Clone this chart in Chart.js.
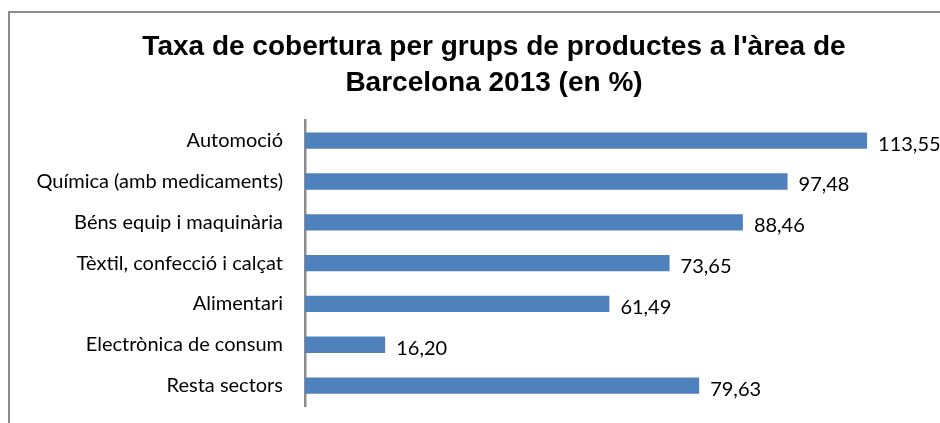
<!DOCTYPE html>
<html>
<head>
<meta charset="utf-8">
<script src="https://cdn.jsdelivr.net/npm/chart.js@4.4.1/dist/chart.umd.min.js"></script>
<style>
  html, body { margin: 0; padding: 0; background: #fff; }
  #wrap { width: 940px; height: 423px; }
</style>
</head>
<body>
<div id="wrap"><canvas id="coberturaChart" width="940" height="423"></canvas></div>
<script>
const sectors = ['Automoció', 'Química (amb medicaments)', 'Béns equip i maquinària', 'Tèxtil, confecció i calçat', 'Alimentari', 'Electrònica de consum', 'Resta sectors'];
const coverage = [113.55, 97.48, 88.46, 73.65, 61.49, 16.20, 79.63];
const axisMin = 0;
const axisMax = 120;

// grey frame like the excel chart box (left + top edges visible)
const framePlugin = {
    id: 'frame',
    beforeDraw(chart) {
        const ctx = chart.ctx;
        ctx.save();
        ctx.strokeStyle = '#8c8c8c';
        ctx.lineWidth = 2;
        ctx.beginPath();
        ctx.moveTo(9, chart.height);
        ctx.lineTo(9, 12);
        ctx.lineTo(chart.width, 12);
        ctx.stroke();
        ctx.restore();
    },
    // excel centres the title a bit right of the canvas middle
    afterLayout(chart) {
        const t = chart.titleBlock;
        if (t) {
            t.left = 89;
            t.right = 899;
        }
    }
};

// value labels at end of each bar
const valueLabels = {
    id: 'valueLabels',
    afterDatasetsDraw(chart) {
        const ctx = chart.ctx;
        const meta = chart.getDatasetMeta(0);
        ctx.save();
        ctx.font = '20px Lato';
        ctx.fillStyle = '#000';
        ctx.textAlign = 'left';
        ctx.textBaseline = 'alphabetic';
        meta.data.forEach((bar, i) => {
            const txt = coverage[i].toFixed(2).replace('.', ',');
            ctx.fillText(txt, bar.x + 11, bar.y + 10);
        });
        ctx.restore();
    }
};

const ctx = document.getElementById('coberturaChart').getContext('2d');
new Chart(ctx, {
    type: 'bar',
    data: {
        labels: sectors,
        datasets: [{
            data: coverage,
            backgroundColor: '#4f81bd',
            borderWidth: 0,
            categoryPercentage: 1,
            barPercentage: 0.4
        }]
    },
    options: {
        indexAxis: 'y',
        responsive: false,
        animation: false,
        layout: { padding: { left: 0, right: 41, top: 0, bottom: 17 } },
        plugins: {
            legend: { display: false },
            tooltip: { enabled: false },
            title: {
                display: true,
                text: ['Taxa de cobertura per grups de productes a l\'àrea de', 'Barcelona 2013 (en %)'],
                color: '#000',
                font: { family: 'Liberation Sans', size: 28, weight: 'bold', lineHeight: 1.29 },
                padding: { top: 29, bottom: 19 }
            }
        },
        scales: {
            x: {
                display: false,
                min: axisMin,
                max: axisMax
            },
            y: {
                afterFit(scale) {
                    scale.width = 305;
                    scale.paddingTop = 0;
                    scale.paddingBottom = 0;
                },
                grid: { drawOnChartArea: false, drawTicks: false },
                border: { display: true, color: '#8c8c8c', width: 2.5 },
                ticks: {
                    color: '#000',
                    padding: 22,
                    font: { family: 'Lato', size: 20 }
                }
            }
        }
    },
    plugins: [framePlugin, valueLabels]
});
</script>
</body>
</html>
